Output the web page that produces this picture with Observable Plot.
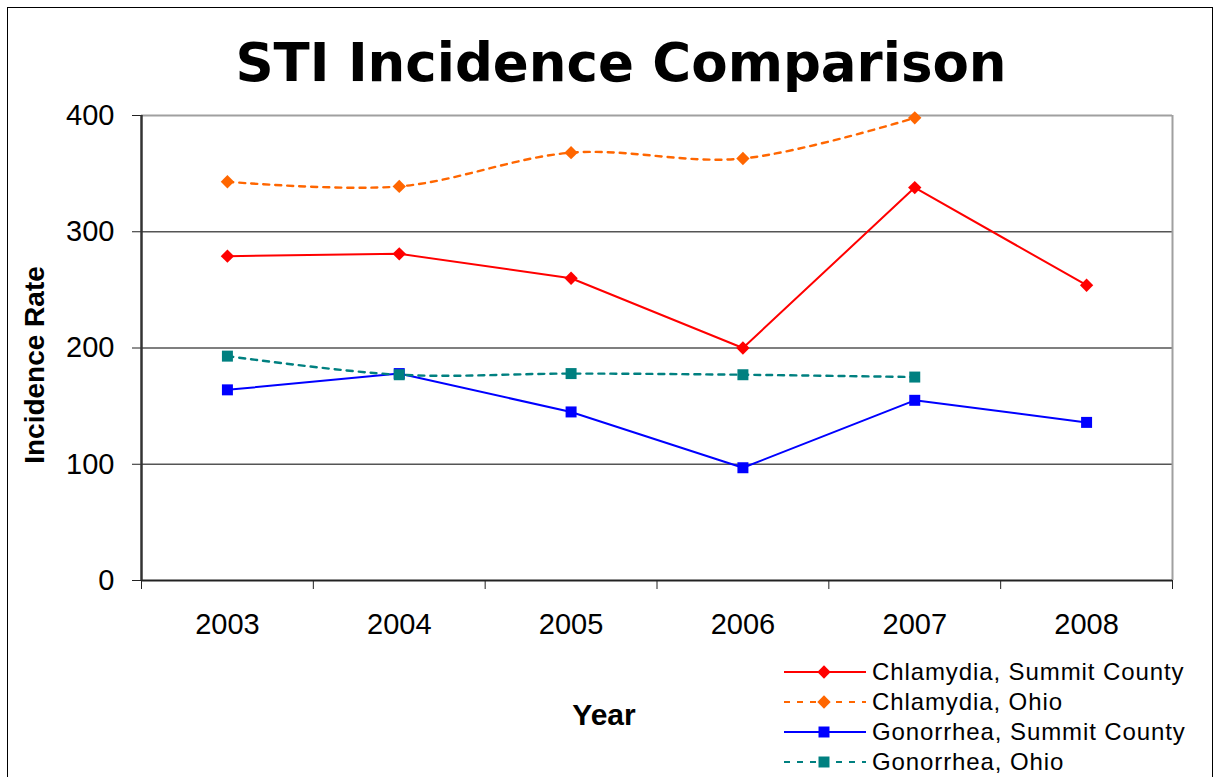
<!DOCTYPE html>
<html>
<head>
<meta charset="utf-8">
<script src="https://cdn.jsdelivr.net/npm/d3@7"></script>
<script src="https://cdn.jsdelivr.net/npm/@observablehq/plot@0.6"></script>
<style>
  html, body { margin: 0; padding: 0; background: #fff; }
  #wrap { position: relative; width: 1218px; height: 777px; overflow: hidden; background: #fff; font-family: "Liberation Sans", Arial, sans-serif; }
  #frame { position: absolute; left: 7px; top: 7px; width: 1206px; height: 820px; border: 1.5px solid #000; box-sizing: border-box; }
  #title { position: absolute; left: 12px; top: 36px; width: 1218px; text-align: center; font-family: "DejaVu Sans", Verdana, sans-serif; font-weight: bold; font-size: 53px; line-height: 1; white-space: nowrap; }
  #chart { position: absolute; left: 0; top: 100px; }
  #xlabel { position: absolute; left: 504px; top: 700px; width: 200px; text-align: center; font-weight: bold; font-size: 30px; line-height: 1; }
  #legend { position: absolute; left: 784px; top: 657px; }
  .row { display: flex; align-items: center; height: 30px; }
  .row svg { display: block; margin-right: 6px; }
  .row span { font-size: 24px; letter-spacing: 0.9px; line-height: 30px; white-space: nowrap; }
</style>
</head>
<body>
<div id="wrap">
  <div id="frame"></div>
  <div id="title">STI Incidence Comparison</div>
  <div id="chart"></div>
  <div id="xlabel">Year</div>
  <div id="legend"></div>
</div>
<script>
// ---- data ----
const years = [2003, 2004, 2005, 2006, 2007, 2008];
const chlamydiaSummit = [279, 281, 260, 200, 338, 254];
const chlamydiaOhio   = [343, 339, 368, 363, 398, null];
const gonorrheaSummit = [164, 178, 145, 97, 155, 136];
const gonorrheaOhio   = [193, 177, 178, 177, 175, null];
const seriesNames = [
  "Chlamydia, Summit County",
  "Chlamydia, Ohio",
  "Gonorrhea, Summit County",
  "Gonorrhea, Ohio"
];
const yTicks = [0, 100, 200, 300, 400];
const yLabel = "Incidence Rate";

// ---- styles ----
const seriesValues = [chlamydiaSummit, chlamydiaOhio, gonorrheaSummit, gonorrheaOhio];
const styles = [
  {color: "#FF0000", dash: null,  symbol: "diamond2", r: 6,   curve: "linear",      width: 2},
  {color: "#FF6600", dash: "6,6", symbol: "diamond2", r: 6,   curve: "catmull-rom", width: 2.4},
  {color: "#0000FF", dash: null,  symbol: "square",   r: 6.2, curve: "linear",      width: 2},
  {color: "#008080", dash: "6,6", symbol: "square",   r: 6.2, curve: "catmull-rom", width: 2.4}
];

const tables = seriesValues.map((vals, i) =>
  years.map((yr, j) => ({year: yr, value: vals[j], series: seriesNames[i]}))
       .filter(d => d.value != null)
);

const bandEdges = d3.range(years.length + 1).map(i => years[0] - 0.5 + i);

const seriesMarks = tables.flatMap((t, i) => {
  const s = styles[i];
  return [
    Plot.line(t, {x: "year", y: "value", stroke: s.color, strokeWidth: s.width,
                  strokeDasharray: s.dash || undefined, curve: s.curve}),
    Plot.dot(t, {x: "year", y: "value", symbol: () => s.symbol, r: s.r,
                 fill: s.color, stroke: "none"})
  ];
});

const chart = Plot.plot({
  width: 1218,
  height: 560,
  marginTop: 15,
  marginLeft: 141,
  marginRight: 46,
  marginBottom: 80,
  x: {type: "linear", domain: [bandEdges[0], bandEdges[bandEdges.length - 1]]},
  y: {domain: [0, 400]},
  symbol: {type: "identity"},
  style: {fontFamily: "'Liberation Sans', Arial, sans-serif", color: "#000", background: "transparent", overflow: "visible"},
  marks: [
    Plot.ruleY(yTicks.slice(1, -1), {stroke: "#555", strokeWidth: 1.5}),
    Plot.ruleY([yTicks[yTicks.length - 1]], {stroke: "#a0a0a0", strokeWidth: 2}),
    Plot.ruleX([bandEdges[bandEdges.length - 1]], {stroke: "#a0a0a0", strokeWidth: 2}),
    Plot.axisY({ticks: yTicks, tickSize: 9, tickPadding: 18, fontSize: 29, label: null, stroke: "#222"}),
    Plot.axisX({ticks: years, tickSize: 0, tickPadding: 33, fontSize: 29, tickFormat: "d", label: null}),
    Plot.axisX({ticks: bandEdges, tickSize: 9, tickFormat: () => "", label: null, stroke: "#222"}),
    Plot.ruleY([0], {stroke: "#222", strokeWidth: 2}),
    Plot.ruleX([bandEdges[0]], {stroke: "#333", strokeWidth: 2.5}),
    Plot.text([yLabel], {frameAnchor: "left", textAnchor: "middle", text: d => d, rotate: -90,
                         dx: -106, dy: 17, fontSize: 28, fontWeight: "bold"}),
    ...seriesMarks
  ]
});
document.getElementById("chart").appendChild(chart);

// ---- legend ----
const legend = document.getElementById("legend");
seriesNames.forEach((name, i) => {
  const s = styles[i];
  const row = document.createElement("div");
  row.className = "row";
  const svg = d3.create("svg").attr("width", 82).attr("height", 20);
  svg.append("line").attr("x1", 0).attr("x2", 82).attr("y1", 10).attr("y2", 10)
     .attr("stroke", s.color).attr("stroke-width", s.dash ? 2.2 : 2)
     .attr("stroke-dasharray", s.dash ? "6,7" : null);
  const sym = s.symbol === "square" ? d3.symbolSquare : d3.symbolDiamond2;
  svg.append("path").attr("transform", "translate(40,10)")
     .attr("d", d3.symbol(sym, Math.PI * s.r * s.r)())
     .attr("fill", s.color);
  row.appendChild(svg.node());
  const span = document.createElement("span");
  span.textContent = name;
  row.appendChild(span);
  legend.appendChild(row);
});
</script>
</body>
</html>
